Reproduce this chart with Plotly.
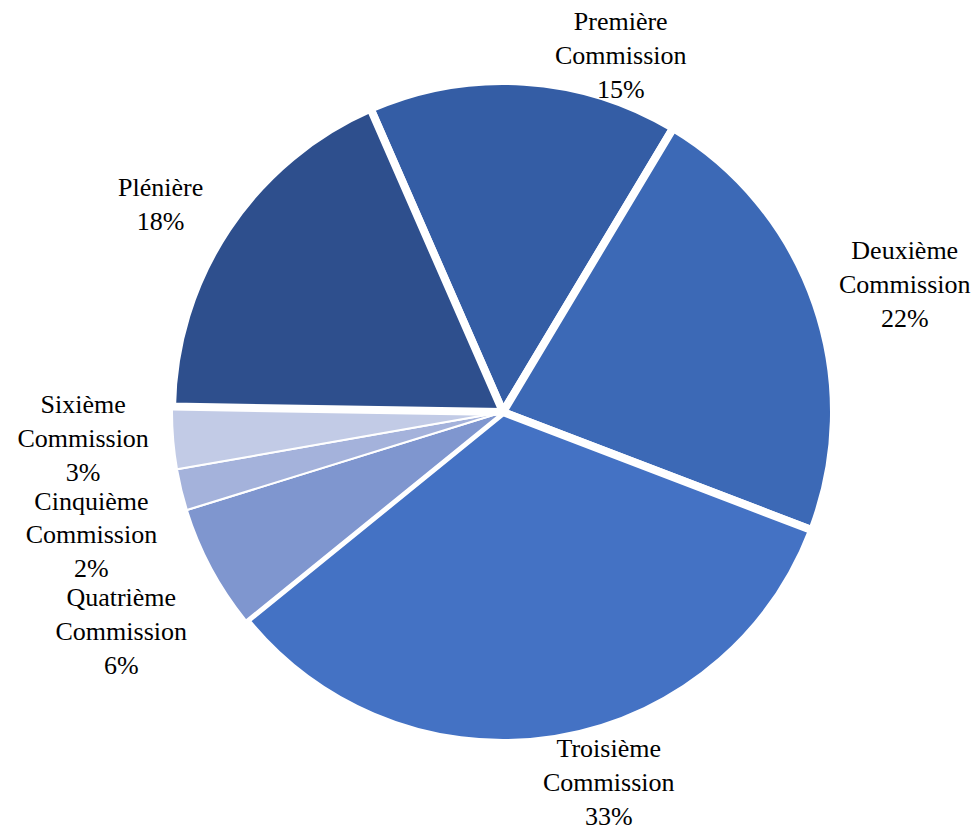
import plotly.graph_objects as go

labels = ["Première<br>Commission", "Deuxième<br>Commission", "Troisième<br>Commission",
          "Quatrième<br>Commission", "Cinquième<br>Commission", "Sixième<br>Commission", "Plénière"]
values = [15, 22, 33, 6, 2, 3, 18]
colors = ["#345DA5", "#3C69B6", "#4472C4", "#7F96CF", "#A4B2DB", "#C2CBE6", "#2E4F8D"]
border_widths = [8, 8, 8, 2, 2, 2, 8]

# Labels that the reference placed away from Plotly's automatic spot:
# slice index -> label centre, as offset from pie centre in units of pie diameter
moved_labels = {0: (0.177, 0.539), 1: (0.607, 0.192), 2: (0.159, -0.559), 6: (-0.518, 0.313)}

texttemplates = ["" if i in moved_labels else "%{label}<br>%{value}%" for i in range(len(labels))]
font = dict(family="Liberation Serif", size=26, color="black")

fig = go.Figure(go.Pie(
    labels=labels,
    values=values,
    sort=False,
    direction="clockwise",
    rotation=-23.6,
    automargin=False,
    marker=dict(colors=colors, line=dict(color="white", width=border_widths)),
    textposition="outside",
    texttemplate=texttemplates,
    textfont=font,
    showlegend=False,
    hoverinfo="label+value",
))

for i, (dx, dy) in moved_labels.items():
    fig.add_annotation(
        x=0.5 + dx, y=0.5 + dy, xref="paper", yref="paper",
        text=f"{labels[i]}<br>{values[i]}%",
        showarrow=False, xanchor="center", yanchor="middle", align="center",
        font=font,
    )

fig.update_layout(
    width=980, height=835,
    margin=dict(l=172, r=146, t=81, b=92, autoexpand=False),
    paper_bgcolor="white",
    plot_bgcolor="white",
)

# The reference has no leader lines between labels and slices.
hide_lines = "document.querySelectorAll('path.textline').forEach(function(e){e.style.display='none';});"
fig.write_html("out.html", post_script=hide_lines)
